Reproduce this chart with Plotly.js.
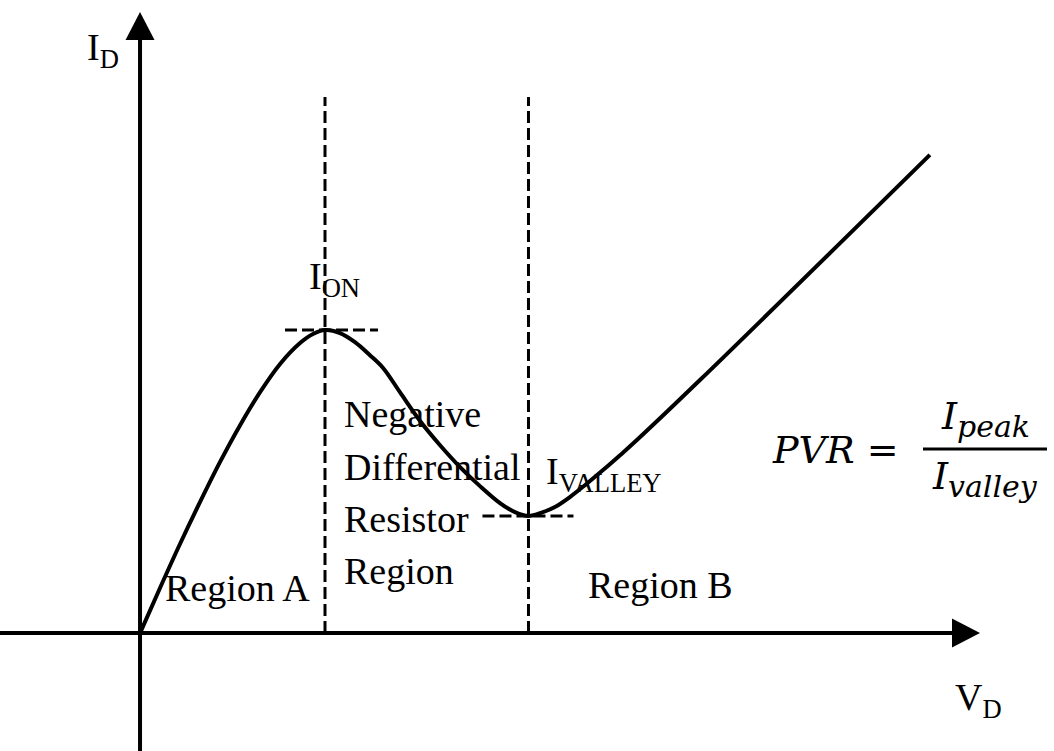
<!DOCTYPE html>
<html>
<head>
<meta charset="utf-8">
<script src="https://cdn.plot.ly/plotly-3.0.1.min.js"></script>
<style>
  html, body { margin: 0; padding: 0; background: #ffffff; }
  #chart { width: 1054px; height: 751px; }
</style>
</head>
<body>
<div id="chart"></div>
<script>
// Tunnel-diode style I–V characteristic (normalised: V_peak = 1, I_peak = 1)
const voltage = [0, 0.108, 0.216, 0.324, 0.432, 0.541, 0.649, 0.757, 0.865, 0.935, 1.0,
                 1.081, 1.162, 1.243, 1.314, 1.405, 1.514, 1.622, 1.730, 1.838, 1.946, 2.027, 2.1,
                 2.178, 2.243, 2.324, 2.405, 2.503, 2.595, 2.686, 3.027, 4.270];
const current = [0, 0.149, 0.294, 0.432, 0.564, 0.686, 0.795, 0.888, 0.957, 0.987, 1.0,
                 0.990, 0.960, 0.917, 0.875, 0.795, 0.700, 0.620, 0.548, 0.485, 0.429, 0.399, 0.386,
                 0.399, 0.416, 0.449, 0.488, 0.538, 0.587, 0.637, 0.835, 1.578];

// Characteristic points
const peakV = 1.0, peakI = 1.0;
const valleyV = 2.1, valleyI = 0.386;

// Labels
const ndrLines = ["Negative", "Differential", "Resistor", "Region"];
const regionA = "Region A";
const regionB = "Region B";
const yLabel = "I<sub>D</sub>";
const xLabel = "V<sub>D</sub>";
const peakLabel = "I<sub>ON</sub>";
const valleyLabel = "I<sub>VALLEY</sub>";

// Canvas scale (pixels per unit) and axis ranges
const W = 1054, H = 751;
const X_RANGE = [-0.757, 4.941];
const Y_RANGE = [-0.389, 2.089];
const pxPerV = W / (X_RANGE[1] - X_RANGE[0]);
const pxPerI = H / (Y_RANGE[1] - Y_RANGE[0]);
const dV = p => p / pxPerV;   // pixel length -> voltage units
const dI = p => p / pxPerI;   // pixel length -> current units

const serif = "Liberation Serif, Times New Roman, serif";
const mathFont = "DejaVu Serif, serif";
const black = "#000000";

const curve = {
  x: voltage, y: current, type: "scatter", mode: "lines",
  line: { color: black, width: 4, shape: "spline", smoothing: 1 },
  hoverinfo: "skip", showlegend: false
};

const dashStyle = { color: black, width: 3, dash: "12px,5px" };
const axisStyle = { color: black, width: 4 };
const topI = Y_RANGE[1] - dI(97);          // upper end of the guide lines
const yTip = Y_RANGE[1] - dI(12);           // vertical arrow tip
const xTip = X_RANGE[0] + dV(980);          // horizontal arrow tip
const headLen = 28, headHalf = 14.5;

const shapes = [
  // axes
  { type: "line", xref: "x", yref: "y", x0: 0, x1: 0, y0: Y_RANGE[0], y1: yTip - dI(headLen) + dI(1), line: axisStyle },
  { type: "line", xref: "x", yref: "y", x0: X_RANGE[0], x1: xTip - dV(headLen) + dV(1), y0: 0, y1: 0, line: axisStyle },
  // arrow heads
  { type: "path", xref: "x", yref: "y", fillcolor: black, line: { width: 0 },
    path: `M 0 ${yTip} L ${-dV(headHalf)} ${yTip - dI(headLen)} L ${dV(headHalf)} ${yTip - dI(headLen)} Z` },
  { type: "path", xref: "x", yref: "y", fillcolor: black, line: { width: 0 },
    path: `M ${xTip} 0 L ${xTip - dV(headLen)} ${dI(headHalf)} L ${xTip - dV(headLen)} ${-dI(headHalf)} Z` },
  // vertical guides through peak and valley
  { type: "line", xref: "x", yref: "y", x0: peakV, x1: peakV, y0: 0, y1: topI, line: dashStyle },
  { type: "line", xref: "x", yref: "y", x0: valleyV, x1: valleyV, y0: 0, y1: topI, line: dashStyle },
  // horizontal ticks at peak and valley current
  { type: "line", xref: "x", yref: "y", x0: peakV - dV(40), x1: peakV + dV(53), y0: peakI, y1: peakI, line: dashStyle },
  { type: "line", xref: "x", yref: "y", x0: valleyV - dV(46), x1: valleyV + dV(45), y0: valleyI, y1: valleyI, line: dashStyle }
];

// fraction bar of the PVR expression
const fracLeft = X_RANGE[0] + dV(923), fracRight = X_RANGE[0] + dV(1047);
const fracY = Y_RANGE[1] - dI(449);
shapes.push({ type: "line", xref: "x", yref: "y", x0: fracLeft, x1: fracRight, y0: fracY, y1: fracY,
              line: { color: black, width: 3 } });

function label(text, x, y, size, extra) {
  return Object.assign({
    text: text, x: x, y: y, xref: "x", yref: "y", showarrow: false,
    xanchor: "left", yanchor: "middle",
    font: { family: serif, size: size, color: black }
  }, extra || {});
}

const textSize = 38;
const mathSize = 38;
const annotations = [
  label(yLabel, -0.295, 1.924, textSize),
  label(peakLabel, 0.9, 1.168, textSize),
  label(ndrLines[0], 1.092, 0.723, textSize),
  label(ndrLines[1], 1.092, 0.548, textSize),
  label(ndrLines[2], 1.092, 0.376, textSize),
  label(ndrLines[3], 1.092, 0.205, textSize),
  label(valleyLabel, 2.185, 0.525, textSize),
  label(regionA, 0.125, 0.148, textSize),
  label(regionB, 2.41, 0.158, textSize),
  label(xLabel, 4.395, -0.221, textSize),
  // PVR = I_peak / I_valley
  label("<i>PVR</i> = ", 3.405, 0.604, mathSize, { font: { family: mathFont, size: mathSize, color: black } }),
  label("<i>I<sub><span style='font-size:30px'>peak</span></sub></i>", (fracLeft + fracRight) / 2, fracY + dI(3), mathSize,
        { xanchor: "center", yanchor: "bottom", font: { family: mathFont, size: mathSize, color: black } }),
  label("<i>I<sub><span style='font-size:30px'>valley</span></sub></i>", (fracLeft + fracRight) / 2, fracY - dI(3), mathSize,
        { xanchor: "center", yanchor: "top", font: { family: mathFont, size: mathSize, color: black } })
];

const layout = {
  width: W, height: H,
  margin: { l: 0, r: 0, t: 0, b: 0, pad: 0 },
  paper_bgcolor: "#ffffff", plot_bgcolor: "#ffffff",
  xaxis: { range: X_RANGE, visible: false, fixedrange: true },
  yaxis: { range: Y_RANGE, visible: false, fixedrange: true },
  shapes: shapes,
  annotations: annotations,
  showlegend: false
};

Plotly.newPlot("chart", [curve], layout, { staticPlot: true, displayModeBar: false });
</script>
</body>
</html>
